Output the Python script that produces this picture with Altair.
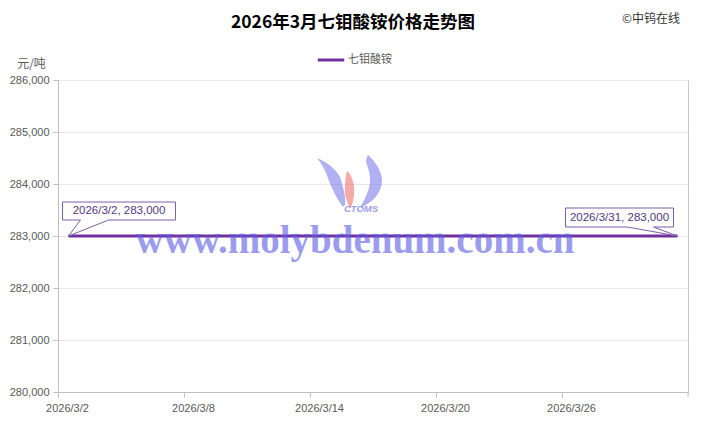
import altair as alt
import pandas as pd

# ---- data ----
dates = [f"2026/3/{d}" for d in range(2, 32)]
prices = [283000] * 30
series_name = "七钼酸铵"
label_dates = ["2026/3/2", "2026/3/8", "2026/3/14", "2026/3/20", "2026/3/26"]
y_ticks = [280000, 281000, 282000, 283000, 284000, 285000, 286000]
title_text = "2026年3月七钼酸铵价格走势图"
copyright_text = "©中钨在线"
unit_text = "元/吨"
watermark_text = "www.molybdenum.com.cn"

df = pd.DataFrame({"date": dates, "price": prices, "series": series_name})
first = df.iloc[[0]].assign(label=lambda d: d["date"] + ", " + d["price"].map("{:,}".format))
last = df.iloc[[-1]].assign(label=lambda d: d["date"] + ", " + d["price"].map("{:,}".format))

PURPLE = "#7030a0"
GRAY = "#595959"
AXIS_GRAY = "#bfbfbf"

x_enc = alt.X("date:O", sort=dates,
              scale=alt.Scale(type="band", paddingInner=0, paddingOuter=0),
              axis=alt.Axis(values=label_dates, bandPosition=0, labelOffset=-1,
                            labelAlign="center",
                            labelAngle=0, title=None, tickSize=5, tickColor=AXIS_GRAY,
                            domainColor=AXIS_GRAY, labelColor=GRAY, labelFontSize=11,
                            labelFont="Liberation Sans", labelPadding=5, grid=False))
y_enc = alt.Y("price:Q",
              scale=alt.Scale(domain=[280000, 286000], nice=False, zero=False),
              axis=alt.Axis(values=y_ticks, format=",d", tickSize=5, tickColor=AXIS_GRAY,
                            domainColor=AXIS_GRAY, gridColor="#e8e8e8", labelColor=GRAY,
                            labelFontSize=11, labelFont="Liberation Sans", labelPadding=4,
                            title=unit_text, titleAngle=0, titleX=-27, titleY=-17,
                            titleAlign="center", titleBaseline="middle",
                            titleFont="Noto Sans CJK SC", titleFontWeight="normal",
                            titleFontSize=12, titleColor=GRAY))

line = alt.Chart(df).mark_line(strokeWidth=3).encode(
    x=x_enc, y=y_enc,
    color=alt.Color("series:N", scale=alt.Scale(domain=[series_name], range=[PURPLE]),
                    legend=alt.Legend(title=None, orient="none", legendX=258, legendY=-35,
                                      symbolType="stroke", symbolStrokeWidth=3,
                                      symbolSize=700, labelFont="Noto Sans CJK SC",
                                      labelFontSize=11, labelColor=GRAY, labelOffset=2)),
)

# callout boxes (shape path centered at the data point, scale r = 120 px)
path1 = "M0,0 L0.1,-0.1333 L-0.05,-0.1333 L-0.05,-0.2833 L0.8917,-0.2833 L0.8917,-0.1333 L0.3333,-0.1333 Z"
path2 = "M0,0 L-0.2,-0.075 L-0.0333,-0.075 L-0.0333,-0.2333 L-0.9333,-0.2333 L-0.9333,-0.075 L-0.4167,-0.075 Z"

box1 = alt.Chart(first).mark_point(shape=path1, size=57600, filled=True, fill="white",
                                   stroke="#7f5fa8", strokeWidth=1, opacity=1).encode(
    x=alt.X("date:O", sort=dates), y="price:Q")
box2 = alt.Chart(last).mark_point(shape=path2, size=57600, filled=True, fill="white",
                                  stroke="#7f5fa8", strokeWidth=1, opacity=1).encode(
    x=alt.X("date:O", sort=dates), y="price:Q")
txt1 = alt.Chart(first).mark_text(dx=50.5, dy=-25, fontSize=11.5, font="Liberation Sans",
                                  color="#503880").encode(
    x=alt.X("date:O", sort=dates), y="price:Q", text="label:N")
txt2 = alt.Chart(last).mark_text(dx=-58, dy=-18, fontSize=11.5, font="Liberation Sans",
                                 color="#503880").encode(
    x=alt.X("date:O", sort=dates), y="price:Q", text="label:N")

# decorations
deco = pd.DataFrame({"t": [title_text]})
title = alt.Chart(deco).mark_text(fontSize=17.5, fontWeight="bold", font="Noto Sans CJK SC",
                                  color="#000000", baseline="middle").encode(
    x=alt.value(295), y=alt.value(-57), text=alt.value(title_text))
copyr = alt.Chart(deco).mark_text(fontSize=12, font="Noto Sans CJK SC", color="#333333",
                                  align="right", baseline="middle").encode(
    x=alt.value(622), y=alt.value(-61), text=alt.value(copyright_text))
end_tick = alt.Chart(deco).mark_rule(color=AXIS_GRAY).encode(
    x=alt.value(630), y=alt.value(312), y2=alt.value(317))


def unit_path(p, r=50.0):
    out = []
    for tok in p.split():
        if "," in tok:
            head = tok[0] if tok[0].isalpha() else ""
            a, b = tok.lstrip("MCLZ").split(",")
            out.append(f"{head}{float(a)/r:.3f},{float(b)/r:.3f}")
        else:
            out.append(tok)
    return " ".join(out)


# watermark logo (approximate), centred at plot (294, 102)
swoosh_l = unit_path("M-35,-24 C-25,-20 -14,-12 -11,-2 C-8,8 -6,16 -7,23 L-9,25 C-14,18 -20,8 -24,-4 C-27,-12 -30,-18 -35,-24 Z")
swoosh_m = unit_path("M-5,-11 C1,-6 3,4 2,14 C1,20 0,24 -2,26 C-5,20 -8,12 -7,4 C-7,-2 -6,-7 -5,-11 Z")
swoosh_r = unit_path("M16,-27 C24,-20 30,-10 30,-2 C30,10 22,20 8,26 C12,18 18,8 18,-2 C18,-10 16,-14 14,-20 C14,-23 15,-25 16,-27 Z")
logo_l = alt.Chart(deco).mark_point(shape=swoosh_l, size=10000, filled=True, fill="#7b7bea",
                                    opacity=0.6, strokeWidth=0).encode(
    x=alt.value(294), y=alt.value(102))
logo_r = alt.Chart(deco).mark_point(shape=swoosh_r, size=10000, filled=True, fill="#7b7bea",
                                    opacity=0.6, strokeWidth=0).encode(
    x=alt.value(294), y=alt.value(102))
logo_m = alt.Chart(deco).mark_point(shape=swoosh_m, size=10000, filled=True, fill="#f07070",
                                    opacity=0.6, strokeWidth=0).encode(
    x=alt.value(294), y=alt.value(102))
logo_t = alt.Chart(deco).mark_text(fontSize=9.5, font="Liberation Sans", fontStyle="italic",
                                   fontWeight="bold", color="#7b7bea", opacity=0.75).encode(
    x=alt.value(303), y=alt.value(129), text=alt.value("CTOMS"))
water = alt.Chart(deco).mark_text(fontSize=39, font="Liberation Serif", fontWeight="bold",
                                  color="#5c5ce6", opacity=0.6, baseline="alphabetic").encode(
    x=alt.value(297), y=alt.value(173), text=alt.value(watermark_text))

chart = alt.layer(
    logo_l, logo_r, logo_m, logo_t,
    line, end_tick, box1, box2, txt1, txt2, water, title, copyr
).properties(
    width=630, height=312,
    autosize=alt.AutoSizeParams(type="none"),
    padding={"left": 50, "top": 72, "right": 14, "bottom": 30},
    background="white",
).configure_view(stroke="#c8c8c8", strokeWidth=1)

chart.save("out.html", embed_options={"renderer": "svg", "actions": False})
